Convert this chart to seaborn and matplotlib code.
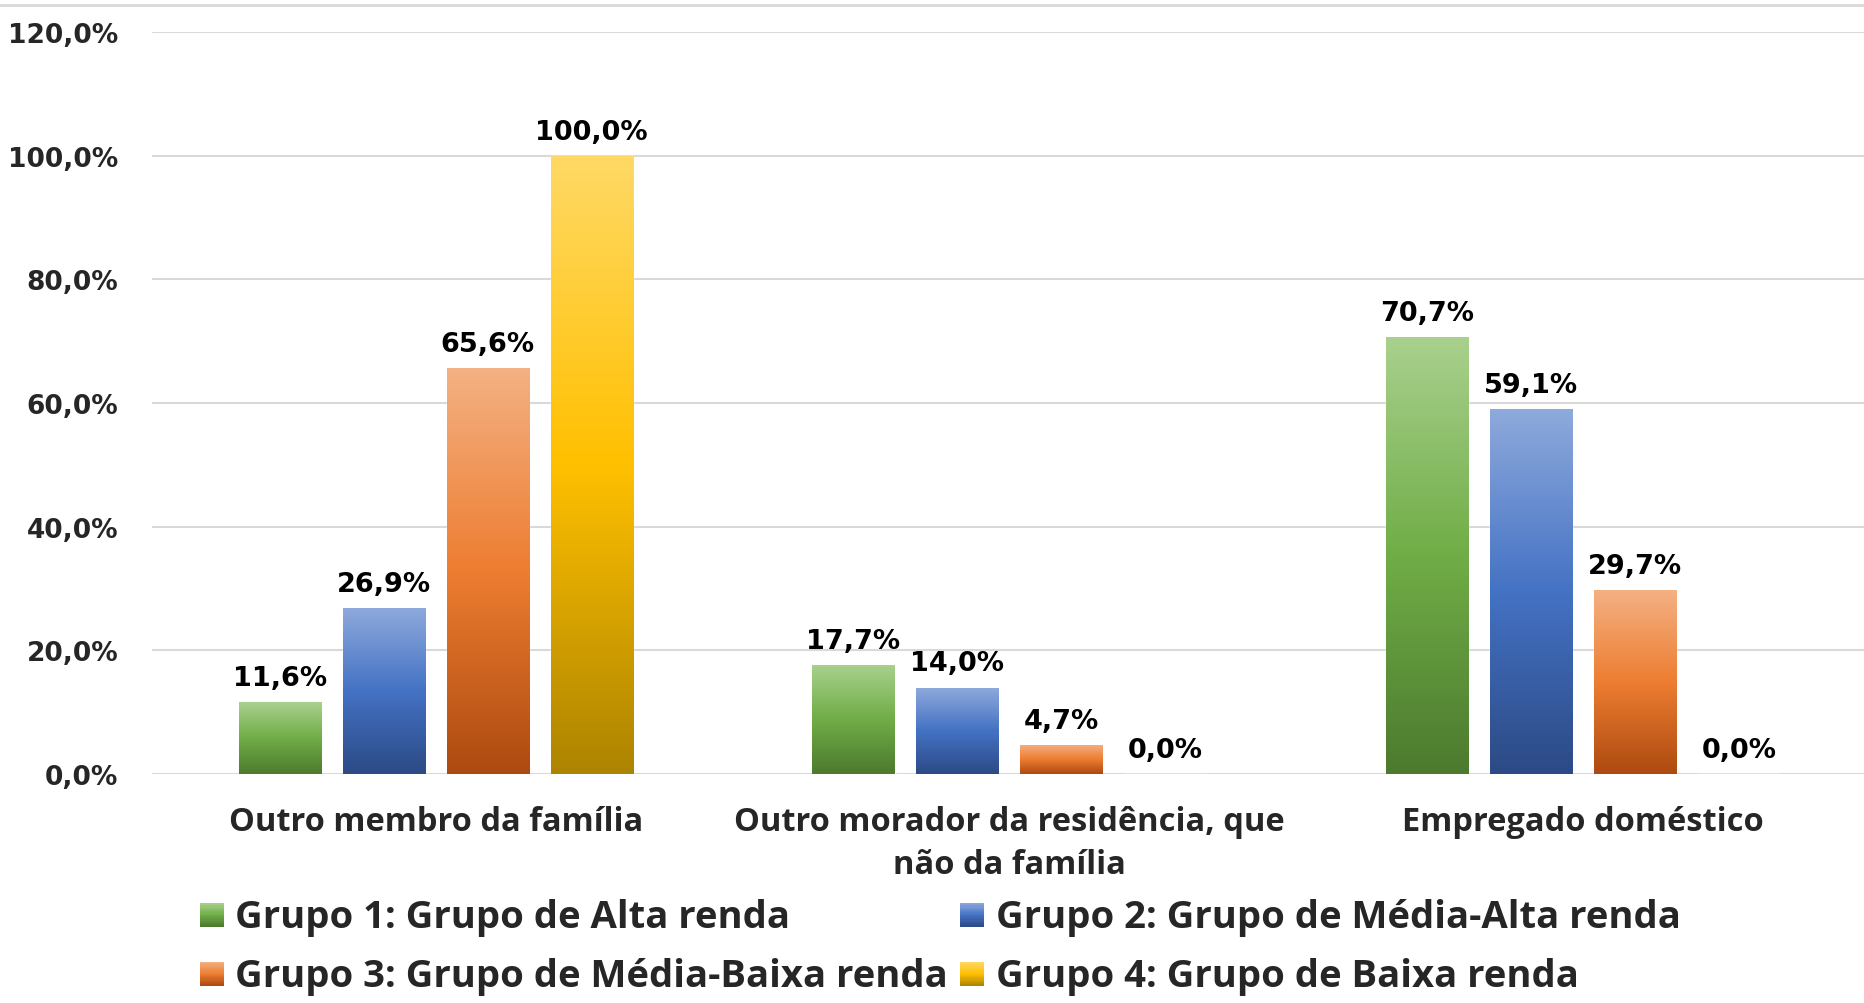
import numpy as np
import pandas as pd
import matplotlib
matplotlib.use('Agg')
import matplotlib.pyplot as plt
import seaborn as sns
from matplotlib.colors import LinearSegmentedColormap
from matplotlib.lines import Line2D
from matplotlib.patches import Rectangle
from matplotlib.legend_handler import HandlerBase

# Data
categorias = ['Outro membro da família',
              'Outro morador da residência, que\nnão da família',
              'Empregado doméstico']
grupos = ['Grupo 1: Grupo de Alta renda',
          'Grupo 2: Grupo de Média-Alta renda',
          'Grupo 3: Grupo de Média-Baixa renda',
          'Grupo 4: Grupo de Baixa renda']
grupo1 = [11.6, 17.7, 70.7]
grupo2 = [26.9, 14.0, 59.1]
grupo3 = [65.6, 4.7, 29.7]
grupo4 = [100.0, 0.0, 0.0]

# gradient colours per group (top, middle, bottom)
gradientes = [('#a9d18e', '#70ad47', '#4c7a2e'),
              ('#8faadc', '#4472c4', '#2c4a85'),
              ('#f4b183', '#ed7d31', '#ad4a10'),
              ('#ffd966', '#ffc000', '#ad8400')]

df = pd.DataFrame({
    'categoria': categorias * 4,
    'grupo': np.repeat(grupos, 3),
    'valor': grupo1 + grupo2 + grupo3 + grupo4,
})

cmaps = [LinearSegmentedColormap.from_list('g%d' % i, list(g))
         for i, g in enumerate(gradientes)]


class GradientHandler(HandlerBase):
    # legend square filled with vertical gradient
    def create_artists(self, legend, orig_handle, xdescent, ydescent,
                       width, height, fontsize, trans):
        cmap = cmaps[orig_handle.get_gid()]
        side = 17
        x0 = -xdescent + width - side
        y0 = -ydescent + (height - side) / 2 - 1
        n = 20
        arts = []
        for k in range(n):
            r = Rectangle((x0, y0 + side * k / n), side, side / n + 0.3,
                          facecolor=cmap(1 - (k + 0.5) / n), edgecolor='none',
                          transform=trans)
            arts.append(r)
        return arts


sns.set_theme(style='white')
plt.rcParams['font.family'] = ['DejaVu Sans']

fig = plt.figure(figsize=(18.64, 10.04), dpi=100)
ax = fig.add_axes([0.0815, 0.228, 0.9185, 0.739])

paleta = [g[1] for g in gradientes]
sns.barplot(data=df, x='categoria', y='valor', hue='grupo', hue_order=grupos,
            order=categorias, palette=paleta, width=0.725, gap=0.21,
            saturation=1, ax=ax, legend=False)

# gradient fill for each bar, plus value labels
grad = np.linspace(0, 1, 256).reshape(-1, 1)
for i, cont in enumerate(ax.containers):
    for bar in cont:
        x0, y0 = bar.get_x(), bar.get_y()
        w, h = bar.get_width(), bar.get_height()
        if h > 0:
            im = ax.imshow(grad, cmap=cmaps[i], aspect='auto', origin='upper',
                           extent=[x0, x0 + w, y0, y0 + h], zorder=2)
            im.set_clip_path(bar)
            bar.set_facecolor('none')
        ax.annotate(f'{h:.1f}%'.replace('.', ','), (x0 + w / 2, h),
                    xytext=(0, 8), textcoords='offset points',
                    ha='center', va='bottom', fontsize=19.5, fontweight='bold',
                    color='black')

ax.set_xlim(-0.495, 2.49)
ax.set_ylim(0, 120)
ax.set_yticks(range(0, 121, 20))
ax.set_yticklabels([f'{v},0%' for v in range(0, 121, 20)],
                   fontsize=19, fontweight='bold')
ax.tick_params(axis='y', length=0, pad=24)
ax.tick_params(axis='x', length=0, pad=22)
for lab in ax.get_xticklabels():
    lab.set_fontsize(23.5)
    lab.set_fontweight('bold')
    lab.set_family('Open Sans')
    lab.set_linespacing(1.4)
ax.grid(axis='y', color='#d9d9d9', linewidth=1.5)
ax.set_axisbelow(True)
for s in ax.spines.values():
    s.set_visible(False)
ax.set_xlabel('')
ax.set_ylabel('')

# legend, filled row by row
handles = []
for i in range(4):
    r = Rectangle((0, 0), 1, 1)
    r.set_gid(i)
    handles.append(r)
ordem = [0, 2, 1, 3]
fig.legend([handles[i] for i in ordem], [grupos[i] for i in ordem],
           handler_map={Rectangle: GradientHandler()},
           loc='lower left', bbox_to_anchor=(0.081, -0.026),
           ncol=2, frameon=False, handlelength=1.0, handletextpad=0.3,
           columnspacing=-0.05, labelspacing=0.55,
           prop={'family': 'Open Sans', 'weight': 'bold', 'size': 27.5})

# top border line
fig.add_artist(Line2D([0, 1], [0.994, 0.994], color='#d9d9d9', linewidth=2))

plt.savefig('out.png', dpi=100)
